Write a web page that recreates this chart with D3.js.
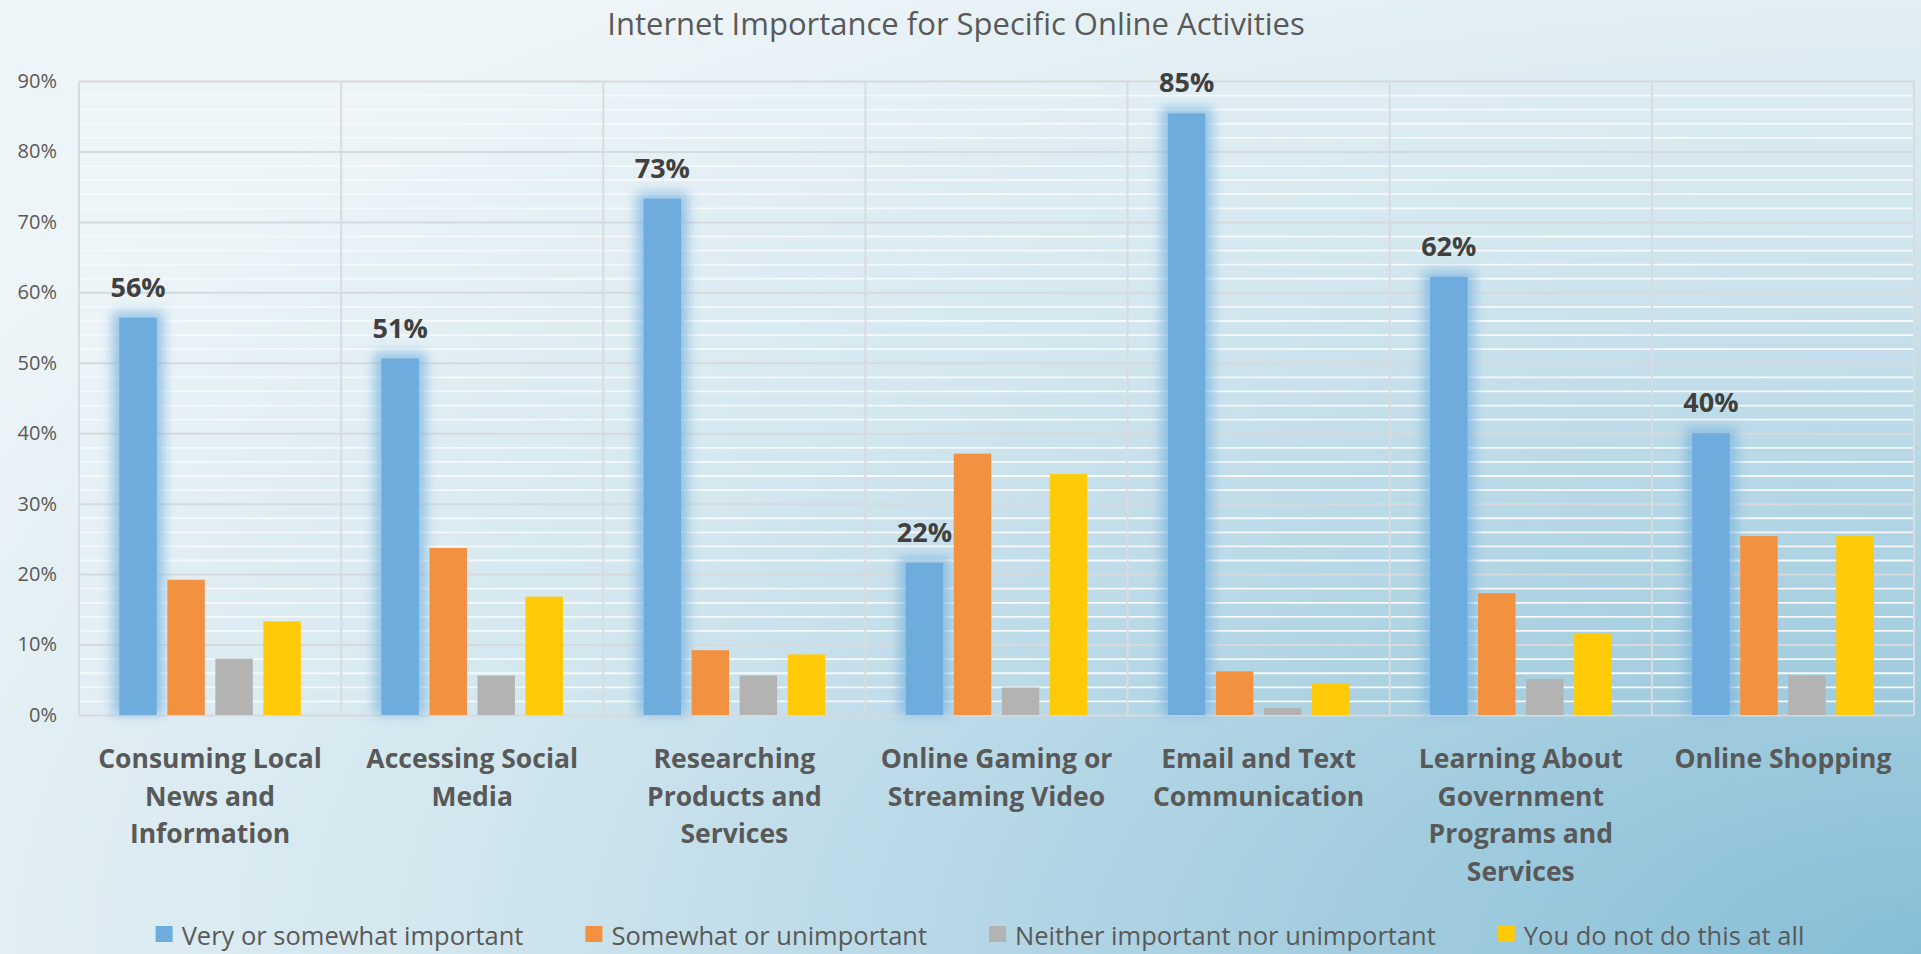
<!DOCTYPE html>
<html>
<head>
<meta charset="utf-8">
<script src="https://cdn.jsdelivr.net/npm/d3@7/dist/d3.min.js"></script>
<style>
  html, body { margin: 0; padding: 0; overflow: hidden; background: #ffffff; }
  svg { display: block; }
</style>
</head>
<body>
<svg id="chart" width="1921" height="954"></svg>
<script>
// ---------------- DATA ----------------
const chartTitle = "Internet Importance for Specific Online Activities";

const categories = [
  "Consuming Local News and Information",
  "Accessing Social Media",
  "Researching Products and Services",
  "Online Gaming or Streaming Video",
  "Email and Text Communication",
  "Learning About Government Programs and Services",
  "Online Shopping"
];

const categoryLabelLines = [
  ["Consuming Local", "News and", "Information"],
  ["Accessing Social", "Media"],
  ["Researching", "Products and", "Services"],
  ["Online Gaming or", "Streaming Video"],
  ["Email and Text", "Communication"],
  ["Learning About", "Government", "Programs and", "Services"],
  ["Online Shopping"]
];

const seriesNames = [
  "Very or somewhat important",
  "Somewhat or unimportant",
  "Neither important nor unimportant",
  "You do not do this at all"
];

const seriesColors = ["#6DACDD", "#F2913F", "#B3B3B3", "#FFCA08"];

// values in percent
const veryImportant       = [56.4, 50.6, 73.3, 21.6, 85.4, 62.2, 40.0];
const somewhatUnimportant = [19.2, 23.7, 9.2, 37.1, 6.2, 17.3, 25.4];
const neitherImportant    = [8.0, 5.6, 5.6, 3.9, 1.0, 5.1, 5.6];
const doNotDo             = [13.3, 16.8, 8.6, 34.2, 4.5, 11.5, 25.4];

const yTicks = [0, 10, 20, 30, 40, 50, 60, 70, 80, 90];
const yMinorTicks = d3.range(0, 91, 2).filter(v => v % 10 !== 0);

const seriesValues = [veryImportant, somewhatUnimportant, neitherImportant, doNotDo];

// ---------------- LAYOUT ----------------
const W = 1921, H = 954;
const plotLeft = 79, plotRight = 1914, plotTop = 81, plotBottom = 715;
const FONT = "'Open Sans', 'Lato', sans-serif";

const svg = d3.select("#chart");
const defs = svg.append("defs");

// background gradient
const bg = defs.append("radialGradient")
  .attr("id", "bgGrad")
  .attr("cx", 1).attr("cy", 1).attr("r", 1.2)
  .attr("fx", 1).attr("fy", 1);
bg.append("stop").attr("offset", 0).attr("stop-color", "#86bed6");
bg.append("stop").attr("offset", 0.35).attr("stop-color", "#aed3e3");
bg.append("stop").attr("offset", 0.65).attr("stop-color", "#d3e7ef");
bg.append("stop").attr("offset", 1).attr("stop-color", "#eef5f8");

const glow = defs.append("filter").attr("id", "glow")
  .attr("x", "-50%").attr("y", "-20%").attr("width", "200%").attr("height", "140%");
glow.append("feGaussianBlur").attr("stdDeviation", 6);

svg.append("rect").attr("width", W).attr("height", H).attr("fill", "url(#bgGrad)");

// scales
const x0 = d3.scaleBand().domain(categories).range([plotLeft, plotRight]);
const groupWidth = 181.5;
const x1 = d3.scaleBand().domain(seriesNames).range([0, groupWidth]).paddingInner(0.22);
const groupOffset = (x0.bandwidth() - groupWidth) / 2;
const y = d3.scaleLinear().domain([0, 90]).range([plotBottom, plotTop]);

// minor gridlines (white)
svg.append("g")
  .attr("transform", `translate(${plotLeft},0)`)
  .call(d3.axisLeft(y).tickValues(yMinorTicks).tickSize(-(plotRight - plotLeft)).tickFormat(""))
  .call(g => g.select(".domain").remove())
  .call(g => g.selectAll("line").attr("stroke", "#f6f8f9").attr("stroke-width", 1.8));

// major gridlines (grey)
svg.append("g")
  .attr("transform", `translate(${plotLeft},0)`)
  .call(d3.axisLeft(y).tickValues(yTicks).tickSize(-(plotRight - plotLeft)).tickFormat(""))
  .call(g => g.select(".domain").remove())
  .call(g => g.selectAll("line").attr("stroke", "#d7dadc").attr("stroke-width", 2));

// vertical category separators
const sepXs = categories.map(c => x0(c)).concat([plotRight]);
svg.append("g").selectAll("line").data(sepXs).join("line")
  .attr("x1", d => d).attr("x2", d => d)
  .attr("y1", plotTop).attr("y2", plotBottom)
  .attr("stroke", "#d9dcde").attr("stroke-width", 2);

// y axis labels
svg.append("g")
  .attr("transform", `translate(${plotLeft},0)`)
  .call(d3.axisLeft(y).tickValues(yTicks).tickSize(0).tickPadding(22).tickFormat(d => d + "%"))
  .call(g => g.select(".domain").remove())
  .call(g => g.selectAll("text")
    .attr("font-family", FONT).attr("font-size", 20).attr("fill", "#595959"));

// build rows
const rows = categories.map((c, i) => ({
  category: c,
  values: seriesNames.map((s, k) => ({ series: s, k, value: seriesValues[k][i], category: c }))
}));

// glow behind blue bars
svg.append("g").selectAll("rect").data(rows).join("rect")
  .attr("x", d => x0(d.category) + groupOffset + x1(seriesNames[0]) - 7)
  .attr("width", x1.bandwidth() + 14)
  .attr("y", d => y(d.values[0].value) - 6)
  .attr("height", d => plotBottom - y(d.values[0].value) + 6)
  .attr("fill", "#7db5e0").attr("opacity", 0.75)
  .attr("filter", "url(#glow)");

// bars
const groups = svg.append("g").selectAll("g").data(rows).join("g")
  .attr("transform", d => `translate(${x0(d.category) + groupOffset},0)`);
groups.selectAll("rect").data(d => d.values).join("rect")
  .attr("x", d => x1(d.series))
  .attr("width", x1.bandwidth())
  .attr("y", d => y(d.value))
  .attr("height", d => plotBottom - y(d.value))
  .attr("fill", d => seriesColors[d.k]);

// data labels on first series
svg.append("g").selectAll("text").data(rows).join("text")
  .attr("x", d => x0(d.category) + groupOffset + x1(seriesNames[0]) + x1.bandwidth() / 2)
  .attr("y", d => y(d.values[0].value) - 21)
  .attr("text-anchor", "middle")
  .attr("font-family", FONT).attr("font-weight", 700).attr("font-size", 27)
  .attr("fill", "#404040")
  .text(d => Math.round(d.values[0].value) + "%");

// category labels
const catLabels = svg.append("g").selectAll("text").data(categories).join("text")
  .attr("text-anchor", "middle")
  .attr("font-family", FONT).attr("font-weight", 700).attr("font-size", 26.5)
  .attr("fill", "#595959");
catLabels.each(function(c, i) {
  const t = d3.select(this);
  categoryLabelLines[i].forEach((line, j) => {
    t.append("tspan")
      .attr("x", x0(c) + x0.bandwidth() / 2)
      .attr("y", 768 + j * 37.5)
      .text(line);
  });
});

// title
svg.append("text")
  .attr("x", 956).attr("y", 35)
  .attr("text-anchor", "middle")
  .attr("font-family", FONT).attr("font-size", 31)
  .attr("fill", "#595959")
  .text(chartTitle);

// legend
const legend = svg.append("g");
const items = legend.selectAll("g").data(seriesNames).join("g");
items.append("rect")
  .attr("x", 0).attr("y", 926).attr("width", 17).attr("height", 16)
  .attr("fill", (d, i) => seriesColors[i]);
items.append("text")
  .attr("x", 26).attr("y", 945)
  .attr("font-family", FONT).attr("font-size", 25.5).attr("fill", "#595959")
  .text(d => d);
let cursor = 0;
items.each(function() {
  const g = d3.select(this);
  const w = g.select("text").node().getComputedTextLength();
  g.attr("transform", `translate(${cursor},0)`);
  cursor += 26 + w + 62;
});
const legendWidth = cursor - 62;
legend.attr("transform", `translate(${980 - legendWidth / 2},0)`);
</script>
</body>
</html>
